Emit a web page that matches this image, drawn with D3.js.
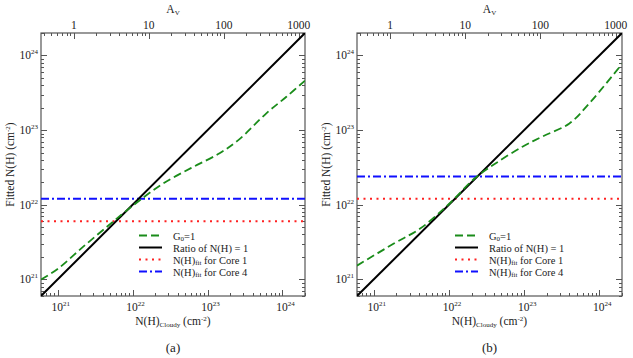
<!DOCTYPE html>
<html><head><meta charset="utf-8">
<script src="https://cdn.jsdelivr.net/npm/d3@7"></script>
<style>
html,body{margin:0;padding:0;background:#fff;}
svg, svg text{font-family:"Liberation Serif","Times New Roman",Times,"DejaVu Serif","Noto Serif",serif;}
</style></head>
<body>
<svg id="chart" width="633" height="358"></svg>
<script>
// ---- data ----
const domainNH = [6e20, 2e24];
const avFactor = 1.65e21;              // N(H) per magnitude of A_V (top axis)
const avTicks = [1, 10, 100, 1000];
const nhTicks = [1e21, 1e22, 1e23, 1e24];
const panelLabels = ["(a)", "(b)"];

const greenA_x = [6e20, 1e21, 2.2e21, 4.9e21, 8e21, 1.25e22, 2.5e22, 6e22, 1.45e23, 2.6e23, 6.1e23, 1.13e24, 2e24];
const greenA_y = [1e21, 1.38e21, 2.75e21, 5.4e21, 8.1e21, 1.15e22, 1.9e22, 3.1e22, 4.9e22, 7.4e22, 1.68e23, 2.8e23, 4.6e23];

const greenB_x = [6e20, 1.83e21, 4.15e21, 8.1e21, 1.1e22, 2.25e22, 4.2e22, 9.5e22, 1.75e23, 4e23, 7.4e23, 2e24];
const greenB_y = [1.53e21, 3.0e21, 4.8e21, 8.4e21, 1.12e22, 2.3e22, 3.6e22, 6.0e22, 8.2e22, 1.23e23, 2.3e23, 7.7e23];

const core1 = [6e21, 1.2e22];   // N(H)_fit for Core 1 (panel a, b)
const core4 = [1.2e22, 2.4e22]; // N(H)_fit for Core 4 (panel a, b)

const legendLabels = ["G0=1", "Ratio of N(H) = 1", "N(H)fit for Core 1", "N(H)fit for Core 4"];

// ---- drawing ----
const FONT = "'Liberation Serif','Times New Roman',Times,'DejaVu Serif','Noto Serif',serif";
const svg = d3.select("#chart").attr("font-family", FONT);
const panels = [
  {x0: 41, x1: 305, gx: greenA_x, gy: greenA_y},
  {x0: 357, x1: 622, gx: greenB_x, gy: greenB_y}
];
const y0 = 33, y1 = 296;
const axisColor = "#555";

function powLabel(sel, v) {
  const e = Math.round(Math.log10(v));
  sel.text(null);
  sel.append("tspan").text("10");
  sel.append("tspan").attr("font-size", 7).attr("dy", -5).text(e);
}

function minorTicks(dom) {
  const out = [];
  const lo = Math.floor(Math.log10(dom[0])), hi = Math.ceil(Math.log10(dom[1]));
  for (let e = lo; e <= hi; e++) {
    for (let m = 1; m <= 9; m++) {
      const v = m * Math.pow(10, e);
      if (v >= dom[0] * 0.999 && v <= dom[1] * 1.001) out.push({v, major: m === 1});
    }
  }
  return out;
}

panels.forEach((p, i) => {
  const g = svg.append("g");
  const x = d3.scaleLog().domain(domainNH).range([p.x0, p.x1]);
  const y = d3.scaleLog().domain(domainNH).range([y1, y0]);
  const av = d3.scaleLog().domain([domainNH[0] / avFactor, domainNH[1] / avFactor]).range([p.x0, p.x1]);

  const clipId = "clip" + i;
  svg.append("clipPath").attr("id", clipId).append("rect")
    .attr("x", p.x0).attr("y", y0).attr("width", p.x1 - p.x0).attr("height", y1 - y0);

  // ticks
  const tickG = g.append("g").attr("stroke", axisColor).attr("stroke-width", 1);
  minorTicks(domainNH).forEach(t => {
    const L = t.major ? 6 : 3;
    const xv = Math.round(x(t.v)) + 0.5, yv = Math.round(y(t.v)) + 0.5;
    tickG.append("line").attr("x1", xv).attr("x2", xv).attr("y1", y1).attr("y2", y1 - L);
    tickG.append("line").attr("x1", p.x0).attr("x2", p.x0 + L).attr("y1", yv).attr("y2", yv);
    tickG.append("line").attr("x1", p.x1).attr("x2", p.x1 - L).attr("y1", yv).attr("y2", yv);
  });
  minorTicks(av.domain()).forEach(t => {
    const L = t.major ? 6 : 3;
    const xv = Math.round(av(t.v)) + 0.5;
    tickG.append("line").attr("x1", xv).attr("x2", xv).attr("y1", y0).attr("y2", y0 + L);
  });

  // frame
  g.append("rect").attr("x", p.x0).attr("y", y0).attr("width", p.x1 - p.x0).attr("height", y1 - y0)
    .attr("fill", "none").attr("stroke", axisColor).attr("stroke-width", 1.2);

  // tick labels
  nhTicks.forEach(v => {
    g.append("text").attr("x", x(v) + 3).attr("y", 311).attr("text-anchor", "middle")
      .attr("font-size", 11.5).attr("fill", "#222").call(powLabel, v);
    g.append("text").attr("x", p.x0 - 3).attr("y", y(v) + 4).attr("text-anchor", "end")
      .attr("font-size", 11.5).attr("fill", "#222").call(powLabel, v);
  });
  avTicks.forEach(v => {
    g.append("text").attr("x", av(v)).attr("y", 29).attr("text-anchor", "middle")
      .attr("font-size", 11.5).attr("fill", "#222").text(v);
  });

  // axis titles
  const cx = (p.x0 + p.x1) / 2;
  const at = g.append("text").attr("x", cx).attr("y", 13).attr("text-anchor", "middle").attr("font-size", 11.5).attr("fill", "#222");
  at.append("tspan").text("A");
  at.append("tspan").attr("font-size", 7).attr("dy", 2).text("V");

  const bt = g.append("text").attr("x", cx).attr("y", 325).attr("text-anchor", "middle").attr("font-size", 11.5).attr("fill", "#222");
  bt.append("tspan").text("N(H)");
  bt.append("tspan").attr("font-size", 7).attr("dy", 2).text("Cloudy");
  bt.append("tspan").attr("dy", -2).text(" (cm");
  bt.append("tspan").attr("font-size", 7).attr("dy", -4).text("-2");
  bt.append("tspan").attr("dy", 4).text(")");

  const lt = g.append("text").attr("transform", `translate(${p.x0 - 27},${(y0 + y1) / 2}) rotate(-90)`)
    .attr("text-anchor", "middle").attr("font-size", 11.5).attr("fill", "#222");
  lt.append("tspan").text("Fitted N(H) (cm");
  lt.append("tspan").attr("font-size", 7).attr("dy", -4).text("-2");
  lt.append("tspan").attr("dy", 4).text(")");

  g.append("text").attr("x", cx).attr("y", 352).attr("text-anchor", "middle").attr("font-size", 13)
    .attr("fill", "#222").text(panelLabels[i]);

  // series
  const plot = g.append("g").attr("clip-path", `url(#${clipId})`);
  const line = d3.line().x(d => x(d[0])).y(d => y(d[1]));
  plot.append("path").datum(domainNH.map(v => [v, core1[i]])).attr("d", line)
    .attr("fill", "none").attr("stroke", "#ff2020").attr("stroke-width", 2).attr("stroke-dasharray", "2,4.5");
  plot.append("path").datum(domainNH.map(v => [v, core4[i]])).attr("d", line)
    .attr("fill", "none").attr("stroke", "#1010ff").attr("stroke-width", 2).attr("stroke-dasharray", "8,3,2,3");
  plot.append("path").datum(domainNH.map(v => [v, v])).attr("d", line)
    .attr("fill", "none").attr("stroke", "#000").attr("stroke-width", 2);
  const gline = d3.line().x(d => x(d[0])).y(d => y(d[1])).curve(d3.curveCatmullRom.alpha(0.5));
  plot.append("path").datum(p.gx.map((v, k) => [v, p.gy[k]])).attr("d", gline)
    .attr("fill", "none").attr("stroke", "#1a8c1a").attr("stroke-width", 1.8).attr("stroke-dasharray", "8,4");

  // legend
  const lx = p.x0 + 98, ly0 = 235.5, dy = 12;
  const styles = [
    {c: "#1a8c1a", w: 1.8, d: "8,4"},
    {c: "#000", w: 2, d: null},
    {c: "#ff2020", w: 2, d: "2,4.5"},
    {c: "#1010ff", w: 2, d: "8,3,2,3"}
  ];
  styles.forEach((s, k) => {
    const yy = ly0 + k * dy;
    g.append("line").attr("x1", lx).attr("x2", lx + 23).attr("y1", yy).attr("y2", yy)
      .attr("stroke", s.c).attr("stroke-width", s.w).attr("stroke-dasharray", s.d);
    const t = g.append("text").attr("x", lx + 34).attr("y", yy + 4).attr("font-size", 10.5).attr("fill", "#222");
    const lab = legendLabels[k];
    if (k === 0) {
      t.append("tspan").text("G");
      t.append("tspan").attr("font-size", 7).attr("dy", 1.5).text("0");
      t.append("tspan").attr("dy", -1.5).text("=1");
    } else if (k === 1) {
      t.text(lab);
    } else {
      t.append("tspan").text("N(H)");
      t.append("tspan").attr("font-size", 7).attr("dy", 1.5).text("fit");
      t.append("tspan").attr("dy", -1.5).text(lab.slice(7));
    }
  });
});
</script>
</body></html>
